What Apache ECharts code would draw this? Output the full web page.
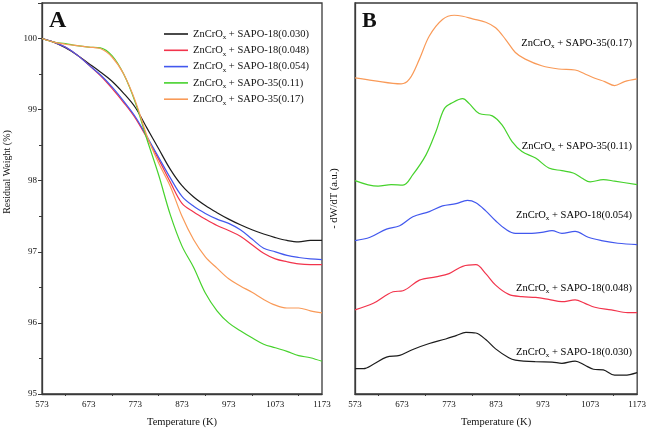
<!DOCTYPE html>
<html><head><meta charset="utf-8">
<script src="https://cdn.jsdelivr.net/npm/echarts@6/dist/echarts.min.js"></script>
<style>html,body{margin:0;padding:0;background:#fff}#c{width:649px;height:433px}</style>
</head><body><div id="c"></div>
<script>
// ---------- Data ----------
const T0 = 573;
const xTickLabels = [573, 673, 773, 873, 973, 1073, 1173];
const yTickLabelsA = [95, 96, 97, 98, 99, 100];

const seriesNames = [
  'SAPO-18(0.030)', 'SAPO-18(0.048)', 'SAPO-18(0.054)', 'SAPO-35(0.11)', 'SAPO-35(0.17)'
];

// Panel A: residual weight (%)
const tempsA = [573,598,623,648,673,698,723,748,773,798,823,848,873,898,923,948,973,998,1023,1048,1073,1098,1123,1148,1173];
const wt030 = [100.0,99.95,99.87,99.77,99.65,99.53,99.40,99.23,99.03,98.74,98.45,98.16,97.93,97.77,97.65,97.55,97.46,97.38,97.31,97.25,97.20,97.16,97.14,97.16,97.16];
const wt048 = [100.0,99.95,99.88,99.77,99.63,99.48,99.30,99.10,98.88,98.60,98.30,97.98,97.68,97.56,97.46,97.37,97.30,97.22,97.10,96.98,96.90,96.86,96.83,96.82,96.82];
const wt054 = [100.0,99.95,99.88,99.77,99.63,99.49,99.32,99.12,98.90,98.62,98.33,98.04,97.78,97.64,97.54,97.46,97.40,97.31,97.18,97.05,97.00,96.95,96.92,96.90,96.89];
const wt011 = [100.0,99.95,99.93,99.90,99.88,99.87,99.76,99.50,99.10,98.58,98.08,97.52,97.08,96.78,96.42,96.17,96.00,95.89,95.79,95.70,95.65,95.60,95.54,95.51,95.46];
const wt017 = [100.0,99.95,99.92,99.90,99.88,99.86,99.74,99.50,99.12,98.63,98.25,97.92,97.50,97.17,96.93,96.77,96.62,96.52,96.43,96.33,96.25,96.21,96.21,96.17,96.14];

// Panel B: -dW/dT (a.u., curves offset vertically)
const tB017 = [573,612,671,689,710,731,759,784,802,823,851,872,893,914,935,970,1006,1041,1062,1083,1104,1125,1146,1173];
const dB017 = [319.3,316.6,313.3,318.3,338.3,361.6,378.3,382.6,381.6,379,375.6,370,358.3,345,338.3,331.6,328.3,327.3,323.3,319,315.6,311.6,315.6,318.3];
const tB011 = [573,622,650,675,696,724,745,763,780,802,816,837,865,886,907,928,957,985,1013,1037,1055,1073,1101,1125,1173];
const dB011 = [215.6,210,211.6,211,221.6,241.6,265,288.3,294.3,298.3,293.3,283.3,281,271.6,255,245,238.3,228.3,225.6,223.3,218.3,214.3,216.6,215,211.6];
const tB054 = [573,605,640,668,696,731,759,788,812,830,851,872,893,914,949,970,992,1013,1041,1069,1097,1132,1173];
const dB054 = [155,158.3,166.6,170,179,184.3,190,192.3,195.6,193.3,185,175,166.6,162.3,162.3,163.3,165,162.3,164.3,158.3,155,152.3,151];
const tB048 = [573,612,654,675,710,745,773,802,830,851,872,900,928,957,985,1013,1041,1062,1083,1118,1153,1173];
const dB048 = [85,91.6,103.3,104.3,115,118.3,121.6,129,130.6,121.6,110,100.6,98.3,97.6,95.6,93.3,95,91.6,87.6,85,82.3,82.3];
const tB030 = [573,591,612,640,668,696,731,766,788,809,830,851,872,900,914,957,992,1013,1041,1062,1080,1101,1125,1146,1173];
const dB030 = [25.6,25.6,30,37.3,39,45,51,55.6,59,62.3,61.6,55,45.6,36.6,34.3,32.6,32.3,31,33.3,29,25,24.3,19,19,21.6];

const colors = ['#1c1c1c', '#f2344c', '#4258ee', '#46d22c', '#f99a58'];

// ---------- Build ----------
const pair = (ts, vs) => ts.map((t, i) => [t - T0, vs[i]]);
const serif = 'Liberation Serif';
const axisColor = '#3a3a3a';
const richSub = {
  m: { fontFamily: serif, fontSize: 10.5, color: '#111', lineHeight: 14 },
  s: { fontFamily: serif, fontSize: 7, color: '#111', lineHeight: 14, padding: [7, 0, 0, 0] }
};
const richLabel = n => '{m|ZnCrO}{s|x}{m| + ' + n + '}';

const xAxisBase = (gi) => ({
  gridIndex: gi, type: 'value', min: 0, max: 600, interval: 100,
  name: 'Temperature (K)', nameLocation: 'middle', nameGap: 23,
  nameTextStyle: { fontFamily: serif, fontSize: 10.5, color: '#111' },
  axisLine: { show: true, onZero: false, lineStyle: { color: axisColor, width: 1.3 } },
  axisTick: { show: false },
  minorTick: { show: true, splitNumber: 2, length: 2, lineStyle: { color: axisColor } },
  axisLabel: { fontFamily: serif, fontSize: 9, color: '#111', margin: 6,
    formatter: v => xTickLabels.includes(v + T0) ? String(v + T0) : '' },
  splitLine: { show: false }
});

const lineSeries = (name, data, ci, xi, yi) => ({
  name, type: 'line', xAxisIndex: xi, yAxisIndex: yi, data,
  showSymbol: false, symbol: 'none', smooth: 0.35,
  lineStyle: { color: colors[ci], width: 1.2 }, itemStyle: { color: colors[ci] }
});

const legendNames = seriesNames.map(n => 'ZnCrOx + ' + n);
const wtArrays = [wt030, wt048, wt054, wt011, wt017];
const dtB = [[tB030, dB030], [tB048, dB048], [tB054, dB054], [tB011, dB011], [tB017, dB017]];
const series = [];
seriesNames.forEach((n, i) => series.push(lineSeries(legendNames[i], pair(tempsA, wtArrays[i]), i, 0, 0)));
seriesNames.forEach((n, i) => series.push(lineSeries('B ' + n, pair(dtB[i][0], dtB[i][1]), i, 1, 1)));

// labels for panel B (right-aligned text next to each curve)
const bLabelY = [352, 288, 215, 146, 43];
const graphics = [
  { type: 'text', left: 49, top: 9, style: { text: 'A', fontFamily: serif, fontWeight: 'bold', fontSize: 24, fill: '#111' } },
  { type: 'text', left: 362, top: 10, style: { text: 'B', fontFamily: serif, fontWeight: 'bold', fontSize: 22, fill: '#111' } },
  { type: 'text', x: 7, y: 172, rotation: Math.PI / 2,
    style: { text: 'Residual Weight (%)', fontFamily: serif, fontSize: 10, fill: '#111', align: 'center', verticalAlign: 'middle' } }
];
seriesNames.forEach((n, i) => graphics.push({
  type: 'text', right: 649 - 632, top: bLabelY[i] - 7,
  style: { text: richLabel(n), rich: richSub, align: 'right' }
}));

const chart = echarts.init(document.getElementById('c'), null, { renderer: 'canvas' });
chart.setOption({
  animation: false,
  backgroundColor: '#fff',
  grid: [
    { left: 42, top: 3, width: 280, height: 394, show: true, borderColor: axisColor, borderWidth: 1.3, backgroundColor: 'transparent' },
    { left: 355, top: 3, width: 284, height: 395, show: true, borderColor: axisColor, borderWidth: 1.3, backgroundColor: 'transparent' }
  ],
  xAxis: [xAxisBase(0), xAxisBase(1)],
  yAxis: [
    { gridIndex: 0, type: 'value', min: 95, max: 100.5, interval: 1,
      axisLine: { show: true, lineStyle: { color: axisColor, width: 1.3 } },
      axisTick: { show: true, length: 4, lineStyle: { color: axisColor } },
      minorTick: { show: true, splitNumber: 2, length: 3, lineStyle: { color: axisColor } },
      axisLabel: { fontFamily: serif, fontSize: 9, color: '#111', margin: 5,
        formatter: v => yTickLabelsA.includes(v) ? String(v) : '' },
      splitLine: { show: false } },
    { gridIndex: 1, type: 'value', min: 0, max: 395,
      name: '- dW/dT (a.u.)', nameLocation: 'middle', nameGap: 15,
      nameTextStyle: { fontFamily: serif, fontSize: 10.5, color: '#111' },
      axisLine: { show: true, lineStyle: { color: axisColor, width: 1.3 } },
      axisTick: { show: false }, axisLabel: { show: false }, splitLine: { show: false } }
  ],
  legend: {
    data: legendNames,
    orient: 'vertical', left: 159, top: 22, itemWidth: 24, itemHeight: 1.6, itemGap: 2.3,
    icon: 'rect',
    formatter: n => richLabel(n.replace('ZnCrOx + ', '')),
    textStyle: { rich: richSub }
  },
  graphic: graphics,
  series
});
</script></body></html>
